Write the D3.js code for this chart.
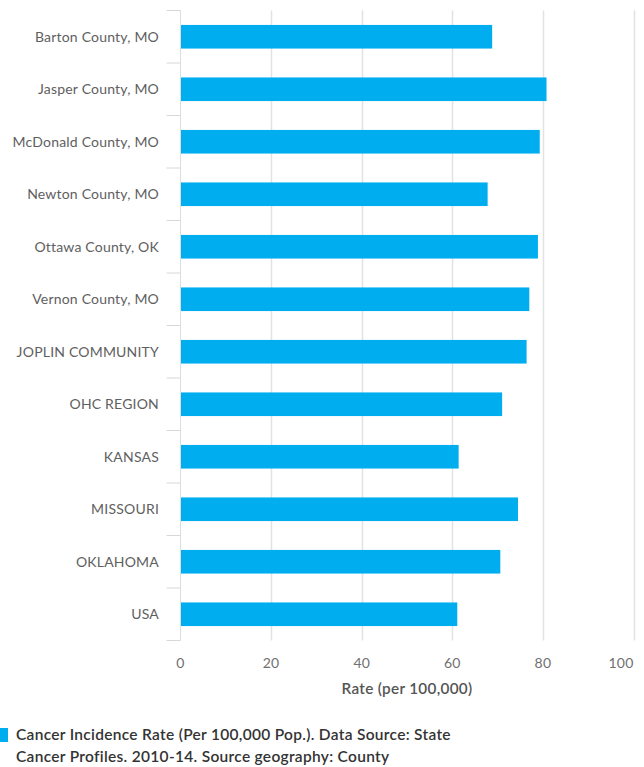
<!DOCTYPE html>
<html>
<head>
<meta charset="utf-8">
<script src="https://cdn.jsdelivr.net/npm/d3@7"></script>
<style>
  html, body { margin: 0; padding: 0; background: #fff; }
  svg { display: block; font-family: Lato, "Open Sans", sans-serif; }
</style>
</head>
<body>
<svg id="chart" width="644" height="767"></svg>
<script>
const categories = ["Barton County, MO", "Jasper County, MO", "McDonald County, MO", "Newton County, MO",
  "Ottawa County, OK", "Vernon County, MO", "JOPLIN COMMUNITY", "OHC REGION", "KANSAS",
  "MISSOURI", "OKLAHOMA", "USA"];
const values = [68.8, 80.8, 79.3, 67.8, 78.9, 77.0, 76.4, 71.0, 61.4, 74.5, 70.6, 61.1];
const xTicks = [0, 20, 40, 60, 80, 100];
const axisTitle = "Rate (per 100,000)";
const legendLines = ["Cancer Incidence Rate (Per 100,000 Pop.). Data Source: State",
  "Cancer Profiles. 2010-14. Source geography: County"];

const svg = d3.select("#chart");
const plotLeft = 180.5, plotRight = 633.5, plotTop = 10.5, plotBottom = 640.5;

const x = d3.scaleLinear().domain([0, 100]).range([plotLeft, plotRight]);
const y = d3.scaleBand().domain(categories).range([plotTop, plotBottom]).paddingInner(0.55).paddingOuter(0.275);
const yb = d3.scaleBand().domain(categories).range([plotTop, plotBottom]);

// gridlines
svg.append("g").selectAll("line").data(xTicks.slice(1)).join("line")
  .attr("x1", d => Math.round(x(d)) + 0.5).attr("x2", d => Math.round(x(d)) + 0.5)
  .attr("y1", plotTop).attr("y2", plotBottom)
  .attr("stroke", "#e2e2e2").attr("stroke-width", 1.5);

// category axis line
svg.append("line").attr("x1", plotLeft).attr("x2", plotLeft).attr("y1", plotTop).attr("y2", plotBottom)
  .attr("stroke", "#d8dde6").attr("stroke-width", 1);

// category tick marks at band boundaries
const boundaries = categories.map(c => yb(c)).concat([plotBottom]);
svg.append("g").selectAll("line").data(boundaries).join("line")
  .attr("x1", plotLeft - 14).attr("x2", plotLeft)
  .attr("y1", d => d).attr("y2", d => d)
  .attr("stroke", "#d8d8d8").attr("stroke-width", 1);

// bars
svg.append("g").selectAll("rect").data(categories).join("rect")
  .attr("x", x(0) + 0.5)
  .attr("y", d => y(d))
  .attr("width", (d, i) => x(values[i]) - x(0) - 0.5)
  .attr("height", y.bandwidth())
  .attr("fill", "#00aeef");

// category labels
svg.append("g").selectAll("text").data(categories).join("text")
  .attr("x", 159)
  .attr("y", d => yb(d) + yb.bandwidth() / 2)
  .attr("dy", "0.35em")
  .attr("text-anchor", "end")
  .attr("font-size", 14)
  .attr("letter-spacing", 0.2)
  .attr("fill", "#606060")
  .text(d => d);

// x tick labels
svg.append("g").selectAll("text").data(xTicks).join("text")
  .attr("x", d => x(d))
  .attr("y", 663)
  .attr("dy", "0.35em")
  .attr("text-anchor", (d, i) => i === xTicks.length - 1 ? "end" : "middle")
  .attr("font-size", 14)
  .attr("letter-spacing", 0.2)
  .attr("fill", "#707070")
  .text(d => d);

// axis title
svg.append("text")
  .attr("x", (plotLeft + plotRight) / 2).attr("y", 689).attr("dy", "0.35em")
  .attr("text-anchor", "middle")
  .attr("font-size", 15.3).attr("font-weight", 600)
  .attr("letter-spacing", 0.3)
  .attr("fill", "#555")
  .text(axisTitle);

// legend
svg.append("rect").attr("x", -6).attr("y", 728).attr("width", 14).attr("height", 14).attr("fill", "#00aeef");
svg.append("g").selectAll("text").data(legendLines).join("text")
  .attr("x", 16)
  .attr("y", (d, i) => 735 + i * 22)
  .attr("dy", "0.35em")
  .attr("font-size", 15.5).attr("font-weight", 600)
  .attr("letter-spacing", 0.3)
  .attr("fill", "#333")
  .text(d => d);
</script>
</body>
</html>
